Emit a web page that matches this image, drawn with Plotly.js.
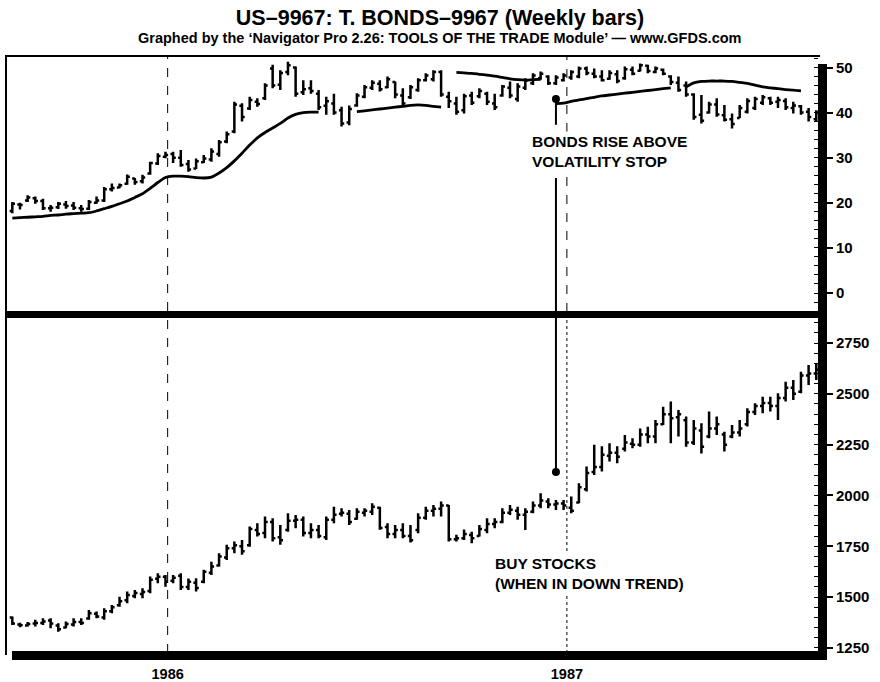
<!DOCTYPE html>
<html>
<head>
<meta charset="utf-8">
<script src="https://cdn.plot.ly/plotly-3.0.1.min.js"></script>
<style>html,body{margin:0;padding:0;background:#fff;}#chart{width:880px;height:682px;}</style>
</head>
<body>
<div id="chart"></div>
<script>
// ---- data (weekly bars, first week 1985-08-12) ----
const firstWeek = '1985-08-12';
const nWeeks = 106;

const bondHigh = [20.2,20.0,21.7,21.4,20.9,19.5,20.2,20.4,20.2,19.5,
20.6,21.4,23.5,24.3,24.3,26.3,25.5,26.2,29.1,31.0,
31.3,31.3,31.7,29.5,29.8,30.6,32.1,33.9,35.8,42.4,
42.1,43.5,43.2,46.5,50.6,49.4,51.3,50.2,47.2,47.2,
45.0,43.5,44.2,41.3,41.6,44.3,46.1,47.2,47.2,48.0,
46.9,45.4,46.1,47.6,48.7,49.4,49.4,44.6,43.5,44.2,
44.6,45.4,44.6,44.2,46.1,46.9,46.5,47.6,48.7,49.1,
48.3,48.3,48.7,49.4,50.2,50.2,49.8,49.4,49.4,49.4,
50.2,50.2,50.9,50.6,50.2,49.8,48.3,48.0,46.9,44.3,
43.9,42.4,43.2,41.7,39.8,41.7,43.2,43.5,43.9,43.5,
43.5,43.2,42.4,41.7,41.0,40.5];
const bondLow = [17.7,18.5,20.2,19.8,18.4,18.0,18.6,18.7,18.4,18.0,
18.4,19.8,20.2,22.5,23.2,24.0,24.0,24.3,26.2,28.4,
29.9,28.8,28.0,26.9,27.5,28.8,29.1,30.2,33.2,35.4,
38.0,40.6,41.3,42.8,45.4,45.0,48.3,43.5,43.9,44.2,
40.6,39.5,39.5,36.9,37.2,41.3,43.2,45.0,44.7,45.4,
43.2,41.3,43.0,44.6,46.9,46.9,43.5,41.0,39.5,39.8,
41.7,43.2,41.7,40.6,43.5,43.2,42.4,45.0,46.1,47.3,
46.1,46.1,46.9,47.3,47.6,48.3,47.6,46.9,47.3,46.5,
47.3,48.3,49.1,48.7,48.7,48.3,46.1,44.6,43.5,38.4,
37.6,39.8,39.1,38.0,36.5,38.8,39.8,40.6,41.7,41.7,
41.0,40.6,39.8,39.5,38.0,38.0];
const bondOpen = [18.2,19.6,20.5,21.0,20.4,18.8,19.0,19.6,19.4,18.8,
18.7,20.0,20.5,23.0,23.4,24.2,25.4,24.8,26.5,28.7,
30.2,30.8,30.0,28.6,27.6,29.0,29.6,30.8,33.6,35.8,
41.5,40.9,42.4,43.2,49.8,46.2,49.0,50.0,44.5,45.4,
44.2,41.5,42.0,40.5,37.8,41.6,43.5,45.5,46.4,45.6,
46.8,43.8,43.4,45.0,47.2,47.4,49.0,43.5,42.0,40.5,
43.8,43.6,44.2,42.0,43.8,45.5,43.0,45.5,46.5,47.6,
48.0,46.5,47.2,47.8,48.0,49.8,48.6,48.0,47.5,48.5,
47.6,49.5,49.3,50.4,49.0,49.5,48.0,46.6,46.0,44.0,
39.5,40.0,41.8,39.4,38.5,38.8,40.2,41.0,42.2,43.2,
42.4,42.6,41.0,41.4,40.2,38.5];
const bondClose = [19.8,19.5,21.2,20.4,18.8,18.9,19.8,19.3,18.9,18.6,
20.2,20.5,23.0,23.3,23.9,25.8,24.6,25.6,28.8,30.4,
30.6,30.0,28.4,27.4,29.2,29.8,31.4,33.4,35.2,41.8,
39.0,42.8,41.9,46.0,46.0,48.8,50.5,44.2,45.2,44.8,
41.2,42.5,40.0,37.6,40.8,43.8,45.6,46.6,45.2,47.4,
44.0,42.0,45.6,47.2,48.2,49.0,44.0,42.5,40.2,43.6,
42.2,44.8,42.4,41.2,45.8,43.8,45.8,47.2,48.2,48.6,
46.5,47.8,48.2,49.0,49.8,48.8,48.0,47.2,48.8,47.0,
49.6,48.6,50.5,49.2,49.8,48.6,46.8,45.0,44.0,39.0,
38.2,41.8,39.6,38.4,37.5,41.0,42.6,43.0,43.4,42.2,
42.8,41.2,41.6,40.0,39.0,40.0];
const bondStop = [16.6,16.7,16.8,16.9,17.0,17.2,17.3,17.5,17.6,17.7,17.8,
18.2,18.7,19.2,19.8,20.4,21.2,22.0,23.2,24.5,25.6,
25.9,25.9,25.8,25.6,25.5,25.7,26.6,27.8,29.3,31.0,
32.8,34.4,35.6,36.6,37.6,38.8,39.6,40.0,40.1,40.1,
null,null,null,null,
40.2,40.4,40.6,40.8,41.0,41.2,41.4,41.6,41.7,41.6,41.4,41.2,
null,
48.9,48.8,48.7,48.5,48.3,48.1,47.8,47.5,47.3,47.2,47.3,47.4,
null,
42.0,42.1,42.5,42.8,43.1,43.4,43.7,43.9,44.1,44.3,44.5,44.7,44.9,45.1,45.3,45.5,
null,
45.7,46.6,46.9,47.0,47.0,47.0,46.9,46.7,46.5,46.1,45.7,45.5,45.3,45.1,45.0,44.8,
null,null];

const stockHigh = [1404,1374,1377,1388,1396,1396,1371,1380,1396,1396,
1437,1429,1445,1461,1502,1527,1535,1543,1601,1617,
1609,1609,1617,1592,1593,1634,1674,1716,1757,1773,
1781,1847,1863,1896,1888,1855,1912,1904,1896,1863,
1855,1896,1945,1937,1929,1937,1937,1962,1945,1863,
1855,1863,1855,1912,1945,1953,1970,1953,1807,1832,
1822,1855,1888,1888,1937,1953,1945,1937,1970,2011,
1986,1978,1978,1995,2060,2142,2250,2242,2257,2242,
2297,2282,2330,2338,2371,2437,2462,2421,2388,2371,
2355,2413,2388,2314,2347,2371,2429,2454,2486,2486,
2503,2560,2568,2609,2642,2650];
const stockLow = [1363,1352,1355,1355,1363,1347,1330,1347,1355,1363,
1388,1396,1388,1421,1453,1470,1494,1494,1519,1568,
1551,1568,1535,1535,1527,1568,1609,1650,1683,1716,
1708,1748,1798,1790,1773,1757,1822,1839,1798,1790,
1790,1781,1863,1896,1855,1880,1896,1904,1831,1790,
1790,1790,1768,1814,1880,1896,1896,1773,1773,1781,
1765,1798,1814,1839,1863,1904,1880,1830,1912,1937,
1937,1929,1929,1912,1962,2019,2101,2118,2167,2159,
2216,2232,2240,2257,2257,2347,2257,2290,2240,2248,
2207,2282,2298,2216,2282,2290,2339,2396,2404,2413,
2371,2462,2470,2503,2544,2568];
const stockOpen = [1400,1365,1360,1370,1372,1385,1360,1350,1365,1378,
1395,1418,1400,1430,1460,1485,1505,1515,1530,1590,
1600,1580,1605,1550,1570,1575,1620,1655,1695,1740,
1750,1755,1830,1815,1870,1795,1830,1875,1880,1815,
1830,1795,1880,1910,1910,1885,1915,1920,1940,1845,
1810,1830,1800,1830,1890,1925,1935,1950,1785,1790,
1805,1800,1830,1860,1870,1915,1925,1905,1920,1950,
1970,1955,1960,1940,1965,2030,2115,2140,2195,2210,
2230,2255,2250,2300,2290,2350,2400,2385,2370,2260,
2320,2290,2330,2300,2290,2310,2350,2410,2440,2455,
2440,2480,2530,2510,2590,2600];
const stockClose = [1370,1362,1368,1372,1380,1370,1342,1368,1378,1372,
1420,1405,1430,1450,1480,1510,1520,1525,1585,1600,
1575,1595,1550,1575,1545,1625,1650,1700,1740,1755,
1725,1835,1810,1870,1790,1780,1875,1880,1815,1830,
1800,1880,1905,1915,1870,1920,1925,1945,1840,1810,
1830,1800,1780,1890,1925,1935,1950,1785,1790,1810,
1790,1835,1860,1870,1915,1930,1905,1920,1950,1975,
1955,1960,1950,1925,2040,2110,2140,2200,2210,2190,
2260,2250,2300,2290,2350,2400,2380,2400,2260,2330,
2240,2330,2350,2250,2310,2330,2410,2440,2455,2440,
2480,2530,2500,2590,2600,2620];

const bondTicks = [0,10,20,30,40,50];
const stockTicks = [1250,1500,1750,2000,2250,2500,2750];
const yearTicks = ['1986-01-01','1987-01-01'];
const yearLabels = ['1986','1987'];

const signalDate = '1986-12-22';
const signalBond = [43.0, 37.3, 25.5];
const signalStock = 2115;

// ---- weekly dates ----
const weeks = [];
const t0 = Date.parse(firstWeek + 'T00:00:00Z');
for (let i = 0; i < nWeeks; i++) {
  weeks.push(new Date(t0 + i * 7 * 86400000).toISOString().slice(0, 10));
}

const FONT = 'Liberation Sans, Arial, Helvetica, sans-serif';
const blk = {line: {color: 'black', width: 2.5}};

const traces = [
  {type: 'ohlc', x: weeks, open: bondOpen, high: bondHigh, low: bondLow, close: bondClose,
   xaxis: 'x', yaxis: 'y2', increasing: blk, decreasing: blk, tickwidth: 0.35, hoverinfo: 'skip'},
  {type: 'scatter', mode: 'lines', x: weeks, y: bondStop, xaxis: 'x', yaxis: 'y2',
   line: {color: 'black', width: 2.8, shape: 'spline', smoothing: 0.8}, connectgaps: false, hoverinfo: 'skip'},
  {type: 'ohlc', x: weeks, open: stockOpen, high: stockHigh, low: stockLow, close: stockClose,
   xaxis: 'x', yaxis: 'y', increasing: blk, decreasing: blk, tickwidth: 0.35, hoverinfo: 'skip'},
  {type: 'scatter', mode: 'markers', x: [signalDate], y: [signalBond[0]], xaxis: 'x', yaxis: 'y2',
   marker: {color: 'black', size: 8}, hoverinfo: 'skip'},
  {type: 'scatter', mode: 'markers', x: [signalDate], y: [signalStock], xaxis: 'x', yaxis: 'y',
   marker: {color: 'black', size: 8}, hoverinfo: 'skip'}
];

// pixel helpers for frame decorations (plot area: x 6..818, y 56..653)
const PL = 6, PW = 812, PT = 56, PH = 597;
const px = v => (v - PL) / PW;
const py = v => (PT + PH - v) / PH;

const shapes = [
  {type: 'line', xref: 'x', yref: 'paper', x0: yearTicks[0], x1: yearTicks[0], y0: 0, y1: 1, layer: 'below',
   line: {color: 'black', width: 1, dash: 'dash'}},
  {type: 'line', xref: 'x', yref: 'y2', x0: yearTicks[1], x1: yearTicks[1], y0: -4.21, y1: 52.55, layer: 'below',
   line: {color: 'black', width: 1, dash: 'dash'}},
  {type: 'line', xref: 'x', yref: 'y', x0: yearTicks[1], x1: yearTicks[1], y0: 1225, y1: 2873, layer: 'below',
   line: {color: 'black', width: 1, dash: 'dot'}},
  // signal line
  {type: 'line', xref: 'x', yref: 'y2', x0: signalDate, x1: signalDate, y0: signalBond[0], y1: signalBond[1],
   line: {color: 'black', width: 2}},
  {type: 'line', xref: 'x', yref: 'y2', x0: signalDate, x1: signalDate, y0: signalBond[2], y1: -4.21,
   line: {color: 'black', width: 2}},
  {type: 'line', xref: 'x', yref: 'y', x0: signalDate, x1: signalDate, y0: 2873, y1: signalStock,
   line: {color: 'black', width: 2}},
  // frame
  {type: 'line', xref: 'paper', yref: 'paper', x0: px(5), x1: px(820), y0: py(56), y1: py(56), layer: 'above',
   line: {color: 'black', width: 2}},
  {type: 'line', xref: 'paper', yref: 'paper', x0: px(6), x1: px(6), y0: py(56), y1: py(655), layer: 'above',
   line: {color: 'black', width: 2}},
  {type: 'rect', xref: 'paper', yref: 'paper', x0: px(5), x1: px(826), y0: py(318), y1: py(311), layer: 'above',
   fillcolor: 'black', line: {width: 0}},
  {type: 'rect', xref: 'paper', yref: 'paper', x0: px(12), x1: px(827), y0: py(660), y1: py(651), layer: 'above',
   fillcolor: 'black', line: {width: 0}},
  {type: 'rect', xref: 'paper', yref: 'paper', x0: px(818), x1: px(827), y0: py(660), y1: py(64), layer: 'above',
   fillcolor: 'black', line: {width: 0}}
];

const annFont = {family: FONT, size: 15.5, color: 'black', weight: 'bold'};
const annotations = [
  {xref: 'paper', yref: 'paper', x: px(440), y: py(38), xanchor: 'center', yanchor: 'middle', showarrow: false,
   text: 'Graphed by the ‘Navigator Pro 2.26: TOOLS OF THE TRADE Module’ — www.GFDS.com',
   font: {family: FONT, size: 14.5, color: 'black', weight: 'bold'}},
  {xref: 'paper', yref: 'paper', x: px(530), y: py(151), xanchor: 'left', yanchor: 'middle', align: 'left', showarrow: false,
   text: 'BONDS RISE ABOVE<br>VOLATILITY STOP', font: Object.assign({}, annFont), bgcolor: 'white'},
  {xref: 'paper', yref: 'paper', x: px(493), y: py(573), xanchor: 'left', yanchor: 'middle', align: 'left', showarrow: false,
   text: 'BUY STOCKS<br>(WHEN IN DOWN TREND)', font: Object.assign({}, annFont), bgcolor: 'white'}
];

const yCommon = {
  side: 'right', anchor: 'x', ticks: 'outside', ticklen: 14, tickwidth: 2, tickcolor: 'black',
  showgrid: false, zeroline: false, showline: false, fixedrange: true,
  tickfont: {family: FONT, size: 15, color: 'black', weight: 'bold'}
};
const leftMinor = {
  side: 'left', anchor: 'x', ticks: '', showticklabels: false, showgrid: false, zeroline: false,
  showline: false, fixedrange: true
};

const layout = {
  width: 880, height: 682,
  margin: {l: PL, r: 880 - PL - PW, t: PT, b: 682 - PT - PH, pad: 0},
  paper_bgcolor: 'white', plot_bgcolor: 'white',
  showlegend: false,
  font: {family: FONT, color: 'black'},
  title: {text: 'US–9967: T. BONDS–9967 (Weekly bars)', xref: 'container', yref: 'container',
          x: 0.5, y: 1 - 17 / 682, xanchor: 'center', yanchor: 'middle',
          font: {family: FONT, size: 21.5, color: 'black', weight: 'bold'}},
  xaxis: {type: 'date', anchor: 'y', range: ['1985-08-06 05:00', '1987-08-18 14:00'],
          rangeslider: {visible: false}, tickvals: yearTicks, ticktext: yearLabels,
          ticks: '', showgrid: false, zeroline: false, showline: false, fixedrange: true,
          ticklabelstandoff: 10,
          tickfont: {family: FONT, size: 14.5, color: 'black', weight: 'bold'}},
  yaxis: Object.assign({}, yCommon, {domain: [0, py(318)], range: [1225, 2873], tickvals: stockTicks,
          minor: {ticks: 'inside', dtick: 50, tick0: 1250, ticklen: 4, tickwidth: 1, tickcolor: 'black'}}),
  yaxis2: Object.assign({}, yCommon, {domain: [py(312), 1], range: [-4.21, 52.55], tickvals: bondTicks,
          minor: {ticks: 'inside', dtick: 2, tick0: 0, ticklen: 4, tickwidth: 1, tickcolor: 'black'}}),
  yaxis3: Object.assign({}, leftMinor, {overlaying: 'y', range: [1225, 2873], tickvals: [],
          minor: {ticks: 'inside', dtick: 50, tick0: 1250, ticklen: 4, tickwidth: 1, tickcolor: 'black'}}),
  yaxis4: Object.assign({}, leftMinor, {overlaying: 'y2', range: [-4.21, 52.55], tickvals: [],
          minor: {ticks: 'inside', dtick: 2, tick0: 0, ticklen: 3, tickwidth: 1, tickcolor: 'black'}}),
  shapes: shapes,
  annotations: annotations
};

Plotly.newPlot('chart', traces, layout, {staticPlot: true, displayModeBar: false});
</script>
</body>
</html>
